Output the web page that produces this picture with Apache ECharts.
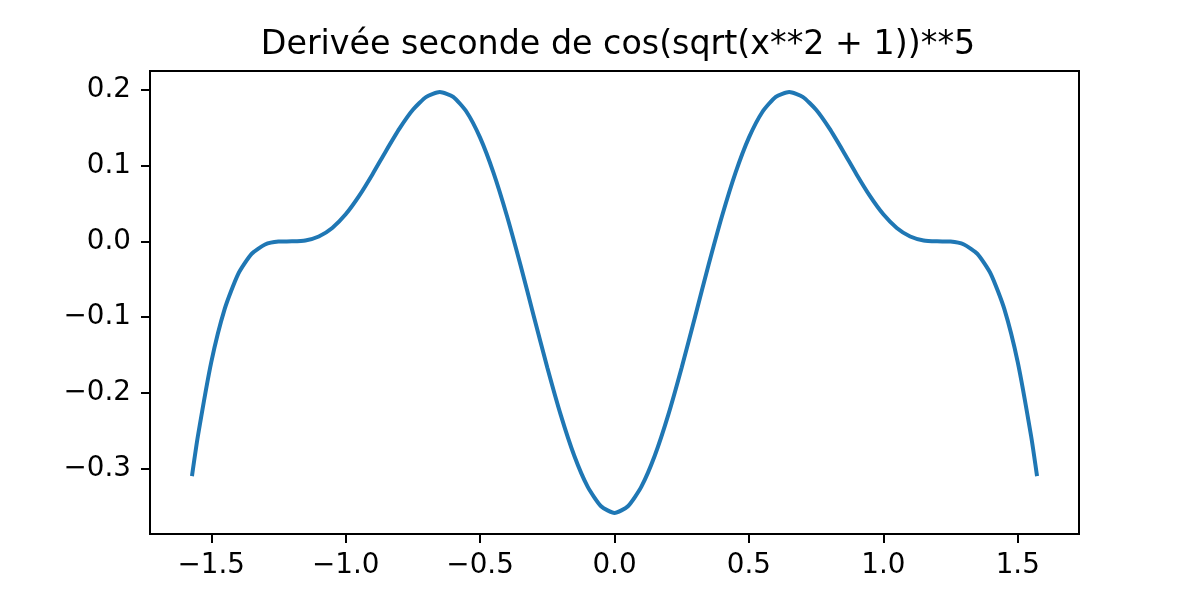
<!DOCTYPE html>
<html>
<head>
<meta charset="utf-8">
<script src="https://cdn.jsdelivr.net/npm/echarts@6/dist/echarts.min.js"></script>
<style>
html,body{margin:0;padding:0;background:#fff;}
#chart{width:1200px;height:600px;}
</style>
</head>
<body>
<div id="chart"></div>
<script>
const titleText = "Derivée seconde de cos(sqrt(x**2 + 1))**5";
const xValues = [
  -1.5708, -1.55, -1.50, -1.45, -1.40, -1.35, -1.30, -1.25, -1.20, -1.15, -1.10,
  -1.05, -1.00, -0.95, -0.90, -0.85, -0.80, -0.75, -0.70, -0.65, -0.60,
  -0.55, -0.50, -0.45, -0.40, -0.35, -0.30, -0.25, -0.20, -0.15, -0.10, -0.05,
  0.00,
  0.05, 0.10, 0.15, 0.20, 0.25, 0.30, 0.35, 0.40, 0.45, 0.50, 0.55,
  0.60, 0.65, 0.70, 0.75, 0.80, 0.85, 0.90, 0.95, 1.00, 1.05,
  1.10, 1.15, 1.20, 1.25, 1.30, 1.35, 1.40, 1.45, 1.50, 1.55, 1.5708
];
const yValues = [
  -0.3074, -0.2577, -0.1595, -0.0892, -0.0432, -0.0166, -0.0042, -0.0003, 0.0000, 0.0012, 0.0064,
  0.0177, 0.0357, 0.0600, 0.0887, 0.1194, 0.1488, 0.1737, 0.1907, 0.1971, 0.1908,
  0.1708, 0.1369, 0.0904, 0.0334, -0.0310, -0.0991, -0.1666, -0.2292, -0.2828, -0.3239, -0.3498,
  -0.3586,
  -0.3498, -0.3239, -0.2828, -0.2292, -0.1666, -0.0991, -0.0310, 0.0334, 0.0904, 0.1369, 0.1708,
  0.1908, 0.1971, 0.1907, 0.1737, 0.1488, 0.1194, 0.0887, 0.0600, 0.0357, 0.0177,
  0.0064, 0.0012, 0.0000, -0.0003, -0.0042, -0.0166, -0.0432, -0.0892, -0.1595, -0.2577, -0.3074
];
const xTicks = [-1.5, -1.0, -0.5, 0.0, 0.5, 1.0, 1.5];
const yTicks = [-0.3, -0.2, -0.1, 0.0, 0.1, 0.2];

const fmt = v => (v < 0 ? '\u2212' : '') + Math.abs(v).toFixed(1);
const font = 'DejaVu Sans';

const chart = echarts.init(document.getElementById('chart'), null, {renderer: 'canvas'});
chart.setOption({
  animation: false,
  backgroundColor: '#ffffff',
  title: {
    text: titleText,
    left: 613, textAlign: 'center',
    top: 24,
    textStyle: {fontFamily: font, fontSize: 33.3, fontWeight: 'normal', color: '#000'}
  },
  grid: {
    left: 150, right: 121, top: 71, bottom: 66,
    show: true, borderColor: '#000', borderWidth: 2, backgroundColor: 'transparent'
  },
  xAxis: {
    type: 'value', min: -1.7279, max: 1.7279,
    splitLine: {show: false},
    axisLine: {show: true, onZero: false, lineStyle: {color: '#000', width: 2}},
    axisTick: {show: true, length: 9, lineStyle: {color: '#000', width: 2}, customValues: xTicks},
    axisLabel: {customValues: xTicks, formatter: fmt, margin: 18, color: '#000', fontFamily: font, fontSize: 27.8}
  },
  yAxis: {
    type: 'value', min: -0.3864, max: 0.2249,
    splitLine: {show: false},
    axisLine: {show: true, onZero: false, lineStyle: {color: '#000', width: 2}},
    axisTick: {show: true, length: 9, lineStyle: {color: '#000', width: 2}, customValues: yTicks},
    axisLabel: {customValues: yTicks, formatter: fmt, margin: 19, color: '#000', fontFamily: font, fontSize: 27.8}
  },
  series: [{
    type: 'line',
    data: xValues.map((x, i) => [x, yValues[i]]),
    showSymbol: false,
    smooth: 0.2,
    lineStyle: {color: '#1f77b4', width: 4, cap: 'square'},
    itemStyle: {color: '#1f77b4'}
  }]
});
</script>
</body>
</html>
